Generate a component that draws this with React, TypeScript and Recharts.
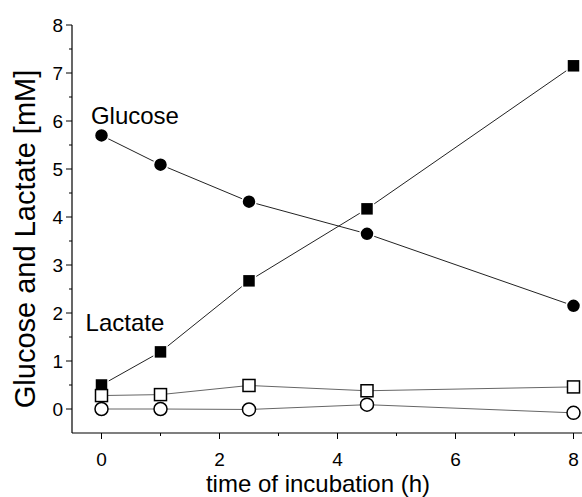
import React from 'react';
import { LineChart, Line, XAxis, YAxis, ReferenceDot } from 'recharts';

const times = [0, 1, 2.5, 4.5, 8];
const glucose = [5.7, 5.09, 4.32, 3.65, 2.15];
const lactate = [0.5, 1.19, 2.67, 4.17, 7.15];
const glucoseControl = [0.0, 0.0, -0.01, 0.09, -0.08];
const lactateControl = [0.28, 0.3, 0.49, 0.38, 0.46];

const xTicks = [0, 1, 2, 3, 4, 5, 6, 7, 8];
const xLabelTicks = [0, 2, 4, 6, 8];
const yTicks = [0, 0.5, 1, 1.5, 2, 2.5, 3, 3.5, 4, 4.5, 5, 5.5, 6, 6.5, 7, 7.5, 8];
const yLabelTicks = [0, 1, 2, 3, 4, 5, 6, 7, 8];

const data = times.map((t, i) => ({
  t,
  glucose: glucose[i],
  lactate: lactate[i],
  glucoseControl: glucoseControl[i],
  lactateControl: lactateControl[i],
}));

const FONT = '"Liberation Sans", Arial, Helvetica, sans-serif';

const XTick = (props: any) => {
  const { x, y, payload } = props;
  const v = payload.value;
  const major = xLabelTicks.includes(v);
  return (
    <g>
      <line x1={x} x2={x} y1={y} y2={y + (major ? 6 : 3)} stroke="#000" strokeWidth={1} />
      {major && (
        <text x={x} y={y + 26} textAnchor="middle" dominantBaseline="central" fontSize={19} fontFamily={FONT} fill="#000">
          {v}
        </text>
      )}
    </g>
  );
};

const YTick = (props: any) => {
  const { x, y, payload } = props;
  const v = payload.value;
  const major = yLabelTicks.includes(v);
  return (
    <g>
      <line x1={x} x2={x - (major ? 6 : 3)} y1={y} y2={y} stroke="#000" strokeWidth={1} />
      {major && (
        <text x={x - 9} y={y} textAnchor="end" dominantBaseline="central" fontSize={19} fontFamily={FONT} fill="#000">
          {v}
        </text>
      )}
    </g>
  );
};

const filledSquare = (props: any) => {
  const { cx, cy, index } = props;
  return <rect key={`fs-${index}`} x={cx - 6.5} y={cy - 6.5} width={13} height={13} fill="#000" stroke="#fff" strokeWidth={1.5} />;
};
const openSquare = (props: any) => {
  const { cx, cy, index } = props;
  return <rect key={`os-${index}`} x={cx - 6} y={cy - 6} width={12} height={12} fill="#fff" stroke="#000" strokeWidth={1.5} />;
};
const filledCircle = (props: any) => {
  const { cx, cy, index } = props;
  return <circle key={`fc-${index}`} cx={cx} cy={cy} r={7} fill="#000" stroke="#fff" strokeWidth={1.5} />;
};
const openCircle = (props: any) => {
  const { cx, cy, index } = props;
  return <circle key={`oc-${index}`} cx={cx} cy={cy} r={6.5} fill="#fff" stroke="#000" strokeWidth={1.5} />;
};

const annotation = (text: string) => (props: any) => {
  const vb = props.viewBox || {};
  return (
    <text x={vb.x} y={vb.y} fontSize={24} fontFamily={FONT} fill="#000">
      {text}
    </text>
  );
};

export default function App() {
  return (
    <div style={{ position: 'fixed', left: 8, top: 8, width: 600, height: 489, background: '#fff' }}>
      <style>{`html, body { overflow: hidden; }`}</style>
      <LineChart width={600} height={489} data={data} margin={{ top: 17, right: 5, bottom: 0, left: 0 }}>
        <XAxis
          dataKey="t"
          type="number"
          domain={[-0.5, 8.5]}
          ticks={xTicks}
          interval={0}
          tickLine={false}
          tickSize={0}
          tickMargin={0}
          tick={<XTick />}
          height={64}
          stroke="#000"
          axisLine={{ stroke: '#000', strokeWidth: 1.2 }}
          label={{
            content: (p: any) => {
              const vb = p.viewBox || {};
              return (
                <text x={310} y={vb.y + 50} textAnchor="middle" dominantBaseline="central" fontSize={24} fontFamily={FONT} fill="#000">
                  time of incubation (h)
                </text>
              );
            },
          }}
        />
        <YAxis
          type="number"
          domain={[-0.5, 8]}
          ticks={yTicks}
          interval={0}
          tickLine={false}
          tickSize={0}
          tickMargin={0}
          tick={<YTick />}
          width={64}
          axisLine={{ stroke: '#000', strokeWidth: 1.2 }}
          label={{
            content: (p: any) => {
              const vb = p.viewBox || {};
              const cx = 17;
              const cy = vb.y + vb.height / 2 + 10;
              return (
                <text x={cx} y={cy} transform={`rotate(-90 ${cx} ${cy})`} textAnchor="middle" dominantBaseline="central" fontSize={29} fontFamily={FONT} fill="#000">
                  Glucose and Lactate [mM]
                </text>
              );
            },
          }}
        />
        <Line dataKey="lactate" stroke="#222" strokeWidth={1} dot={filledSquare} isAnimationActive={false} />
        <Line dataKey="glucose" stroke="#222" strokeWidth={1} dot={filledCircle} isAnimationActive={false} />
        <Line dataKey="glucoseControl" stroke="#666" strokeWidth={1} dot={openCircle} isAnimationActive={false} />
        <Line dataKey="lactateControl" stroke="#666" strokeWidth={1} dot={openSquare} isAnimationActive={false} />
        <ReferenceDot x={-0.18} y={5.94} r={0} fill="none" stroke="none" label={{ content: annotation('Glucose') }} />
        <ReferenceDot x={-0.27} y={1.62} r={0} fill="none" stroke="none" label={{ content: annotation('Lactate') }} />
      </LineChart>
    </div>
  );
}
